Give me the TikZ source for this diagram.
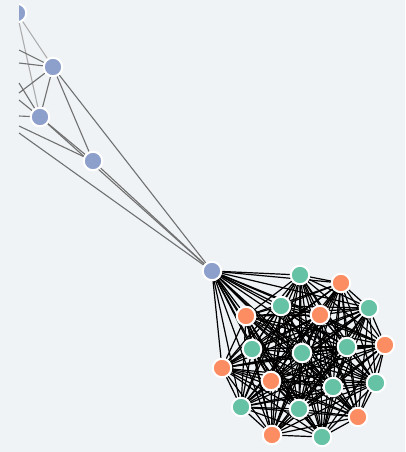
\documentclass[tikz,border=0pt]{standalone}
\definecolor{cblu}{RGB}{141, 160, 203}
\definecolor{cgre}{RGB}{102, 194, 165}
\definecolor{cora}{RGB}{252, 141, 98}
\definecolor{cbak}{RGB}{239, 243, 246}
\definecolor{cdgr}{RGB}{112, 112, 112}
\definecolor{clgr}{RGB}{172, 172, 172}
\pgfdeclarelayer{back}
\pgfdeclarelayer{edges}
\pgfsetlayers{back,edges,main}
\tikzset{
  vert/.style={circle, draw=white, line width=2pt, minimum size=18.5pt, inner sep=0pt},
  hub/.style={vert, fill=cblu},
  dlink/.style={cdgr, line width=1.1pt},
  llink/.style={clgr, line width=1.1pt},
  klink/.style={black, line width=1.2pt}
}
\begin{document}
\begin{tikzpicture}[x=1pt, y=-1pt]

			\begin{pgfonlayer}{back}
				\fill[cbak] (0,0) rectangle (405,452);
			\end{pgfonlayer}
			\useasboundingbox (0,0) rectangle (405,452);

			% --- Blue hubs (upper left) ---
			\begin{scope}
				\clip (19,0) rectangle (40,30);
				\node[hub] (b1) at (17,13) {};
			\end{scope}
			\node[hub] (b2) at (53,67) {};
			\node[hub] (b3) at (40,117) {};
			\node[hub] (b4) at (93,161) {};
			\node[hub] (b5) at (212,271) {};

			% free ends on the left border
			\coordinate (e1) at (19,50);
			\coordinate (e2) at (19,63);
			\coordinate (e3) at (19,93);
			\coordinate (e4) at (19,83);
			\coordinate (e5) at (19,100);
			\coordinate (e6) at (19,116);
			\coordinate (e7) at (19,126);
			\coordinate (e8) at (19,133);

			\begin{pgfonlayer}{edges}
				\draw[llink] (b1) -- (b2);
				\draw[llink] (b1) -- (b3);
				\foreach \a/\b in {e1/b2, e2/b2, e3/b2, e4/b3, e5/b3, e6/b3, e7/b4, e8/b5,
						b2/b3, b2/b4, b2/b5, b3/b4, b3/b5, b4/b5} {
						\draw[dlink] (\a) -- (\b);
					}
			\end{pgfonlayer}

			% --- Cluster (lower right) ---
			\foreach \n/\x/\y/\c in {1/300/275/cgre, 2/341/283/cora, 3/281/306/cgre,
					4/246/316/cora, 5/320/315/cora, 6/369/308/cgre, 7/385/345/cora,
					8/252/349/cgre, 9/302/353/cgre, 10/347/347/cgre, 11/222/368/cora,
					12/271/381/cora, 13/333/387/cgre, 14/376/383/cgre, 15/241/407/cgre,
					16/299/409/cgre, 17/358/417/cora, 18/272/435/cora, 19/322/437/cgre} {
					\node[vert, fill=\c] (c\n) at (\x,\y) {};
				}

			\begin{pgfonlayer}{edges}
				\foreach \i in {1,...,19} {
						\draw[klink] (b5) -- (c\i);
					}
				\foreach \i in {1,...,18} {
						\pgfmathtruncatemacro{\k}{\i+1}
						\foreach \j in {\k,...,19} {
								\draw[klink] (c\i) -- (c\j);
							}
					}
			\end{pgfonlayer}

		\end{tikzpicture}
\end{document}
